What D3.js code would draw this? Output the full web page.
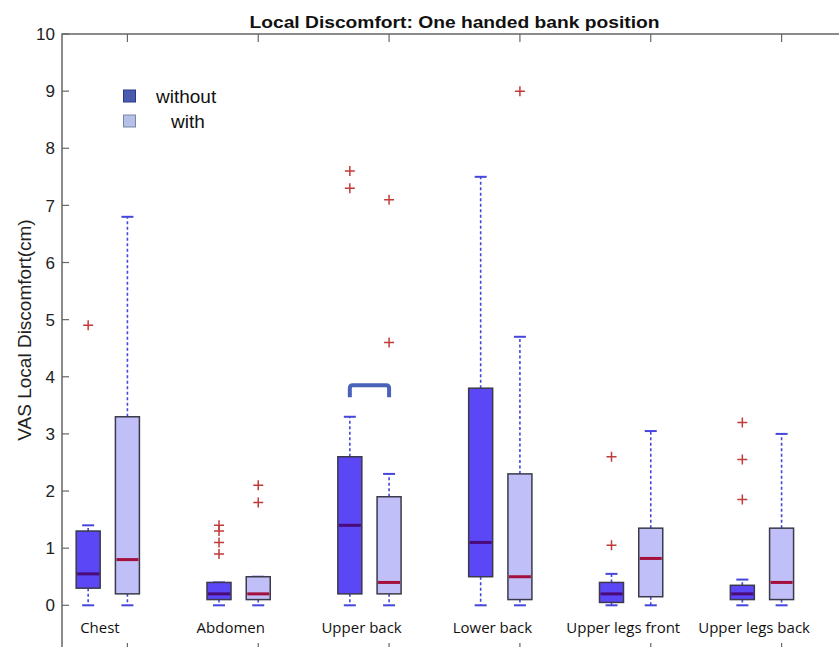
<!DOCTYPE html>
<html><head><meta charset="utf-8">
<script src="https://cdn.jsdelivr.net/npm/d3@7"></script>
<style>body{margin:0;background:#fff}svg{display:block}</style>
</head><body>
<svg id="c" width="839" height="647"></svg>
<script>
const categories = ["Chest","Abdomen","Upper back","Lower back","Upper legs front","Upper legs back"];
const seriesNames = ["without","with"];
const yTicks = [0,1,2,3,4,5,6,7,8,9,10];

const withoutLow = [0,0,0,0,0,0];
const withoutQ1 = [0.3,0.1,0.2,0.5,0.05,0.1];
const withoutMedian = [0.55,0.2,1.4,1.1,0.2,0.2];
const withoutQ3 = [1.3,0.4,2.6,3.8,0.4,0.35];
const withoutHigh = [1.4,0.4,3.3,7.5,0.55,0.45];
const withoutOutliers = [[4.9],[0.9,1.1,1.3,1.4],[7.3,7.6],[],[1.05,2.6],[1.85,2.55,3.2]];

const withLow = [0,0,0,0,0,0];
const withQ1 = [0.2,0.1,0.2,0.1,0.15,0.1];
const withMedian = [0.8,0.2,0.4,0.5,0.82,0.4];
const withQ3 = [3.3,0.5,1.9,2.3,1.35,1.35];
const withHigh = [6.8,0.5,2.3,4.7,3.05,3.0];
const withOutliers = [[],[1.8,2.1],[4.6,7.1],[9.0],[],[]];

const bracketRange = [3.64, 3.85]; // significance bracket over "Upper back"
const bracketGroup = 2;

const series = [
  {name:"without", offset:-0.3, low:withoutLow, q1:withoutQ1, med:withoutMedian, q3:withoutQ3, high:withoutHigh, out:withoutOutliers,
   fill:"#5c47f7", medColor:"#4a0a78", legend:"#4b5cb0"},
  {name:"with", offset:0, low:withLow, q1:withQ1, med:withMedian, q3:withQ3, high:withHigh, out:withOutliers,
   fill:"#c1bff7", medColor:"#a3103c", legend:"#b6c1e8"}
];

const svg = d3.select("#c");
const x = d3.scaleLinear().domain([-0.5, 5.5]).range([62, 847]);
const y = d3.scaleLinear().domain([-0.8, 10]).range([651, 34]);

const axisColor = "#666";
// frame
svg.append("rect").attr("x", x(-0.5)).attr("y", y(10)).attr("width", x(5.5)-x(-0.5)).attr("height", y(-0.8)-y(10))
  .attr("fill","none").attr("stroke",axisColor).attr("stroke-width",1.5);

// y ticks left and right
const gy = svg.append("g");
yTicks.forEach(t=>{
  gy.append("line").attr("x1",x(-0.5)).attr("x2",x(-0.5)+7).attr("y1",y(t)).attr("y2",y(t)).attr("stroke",axisColor).attr("stroke-width",1.2);
  gy.append("line").attr("x1",x(5.5)-8).attr("x2",x(5.5)).attr("y1",y(t)).attr("y2",y(t)).attr("stroke",axisColor).attr("stroke-width",1.2);
  gy.append("text").attr("x",x(-0.5)-7).attr("y",y(t)).attr("dy","0.36em").attr("text-anchor","end")
    .attr("font-family","Liberation Sans, Arial, sans-serif").attr("font-size",17).attr("fill","#222").text(t);
});
// x ticks top and bottom
categories.forEach((c,i)=>{
  svg.append("line").attr("x1",x(i)).attr("x2",x(i)).attr("y1",y(10)).attr("y2",y(10)+8).attr("stroke",axisColor).attr("stroke-width",1.2);
  svg.append("line").attr("x1",x(i)).attr("x2",x(i)).attr("y1",y(-0.8)-8).attr("y2",y(-0.8)).attr("stroke",axisColor).attr("stroke-width",1.2);
  svg.append("text").attr("x",x(i-0.21)).attr("y",633).attr("text-anchor","middle")
    .attr("font-family","Open Sans, sans-serif").attr("font-size",15).attr("fill","#111").text(c);
});

const halfW = 12;
series.forEach(s=>{
  const g = svg.append("g");
  categories.forEach((c,i)=>{
    const cx = x(i + s.offset);
    // whiskers
    g.append("line").attr("x1",cx).attr("x2",cx).attr("y1",y(s.q3[i])).attr("y2",y(s.high[i]))
      .attr("stroke","#4646dc").attr("stroke-width",1.6).attr("stroke-dasharray","3,2.5");
    g.append("line").attr("x1",cx).attr("x2",cx).attr("y1",y(s.q1[i])).attr("y2",y(s.low[i]))
      .attr("stroke","#4646dc").attr("stroke-width",1.6).attr("stroke-dasharray","3,2.5");
    [s.high[i], s.low[i]].forEach(v=>{
      g.append("line").attr("x1",cx-6).attr("x2",cx+6).attr("y1",y(v)).attr("y2",y(v))
        .attr("stroke","#4646dc").attr("stroke-width",2);
    });
    // box
    g.append("rect").attr("x",cx-halfW).attr("y",y(s.q3[i])).attr("width",2*halfW).attr("height",y(s.q1[i])-y(s.q3[i]))
      .attr("fill",s.fill).attr("stroke","#3a3a4a").attr("stroke-width",1.5);
    g.append("line").attr("x1",cx-halfW+1).attr("x2",cx+halfW-1).attr("y1",y(s.med[i])).attr("y2",y(s.med[i]))
      .attr("stroke",s.medColor).attr("stroke-width",3);
    // outliers
    s.out[i].forEach(v=>{
      const py = y(v);
      g.append("path").attr("d",`M${cx-5},${py}H${cx+5}M${cx},${py-5}V${py+5}`)
        .attr("stroke","#c23b3b").attr("stroke-width",1.5).attr("fill","none");
    });
  });
});

// bracket
const bx1 = x(bracketGroup-0.3), bx2 = x(bracketGroup);
svg.append("path").attr("d",`M${bx1},${y(bracketRange[0])}V${y(bracketRange[1])+3}Q${bx1},${y(bracketRange[1])} ${bx1+3},${y(bracketRange[1])}H${bx2-3}Q${bx2},${y(bracketRange[1])} ${bx2},${y(bracketRange[1])+3}V${y(bracketRange[0])}`)
  .attr("fill","none").attr("stroke","#4a63b8").attr("stroke-width",4);

// legend
series.forEach((s,i)=>{
  const ly = 96 + i*25;
  svg.append("rect").attr("x",123.5).attr("y",ly-6).attr("width",12).attr("height",12)
    .attr("fill",s.legend).attr("stroke", i===0?"#2a3a80":"#7a85aa").attr("stroke-width",1);
  svg.append("text").attr("x", i===0?156:171).attr("y",ly).attr("dy","0.35em")
    .attr("font-family","Liberation Sans, Arial, sans-serif").attr("font-size",19).attr("fill","#111").text(s.name);
});

// title
svg.append("text").attr("x",(x(-0.5)+x(5.5))/2).attr("y",28).attr("text-anchor","middle")
  .attr("font-family","Liberation Sans, Arial, sans-serif").attr("font-size",17).attr("font-weight","bold").attr("fill","#111")
  .attr("textLength",410).attr("lengthAdjust","spacingAndGlyphs")
  .text("Local Discomfort: One handed bank position");

// y label
svg.append("text").attr("transform","translate(31,330) rotate(-90)").attr("text-anchor","middle")
  .attr("font-family","Liberation Sans, Arial, sans-serif").attr("font-size",19).attr("fill","#222")
  .text("VAS Local Discomfort(cm)");
</script>
</body></html>
